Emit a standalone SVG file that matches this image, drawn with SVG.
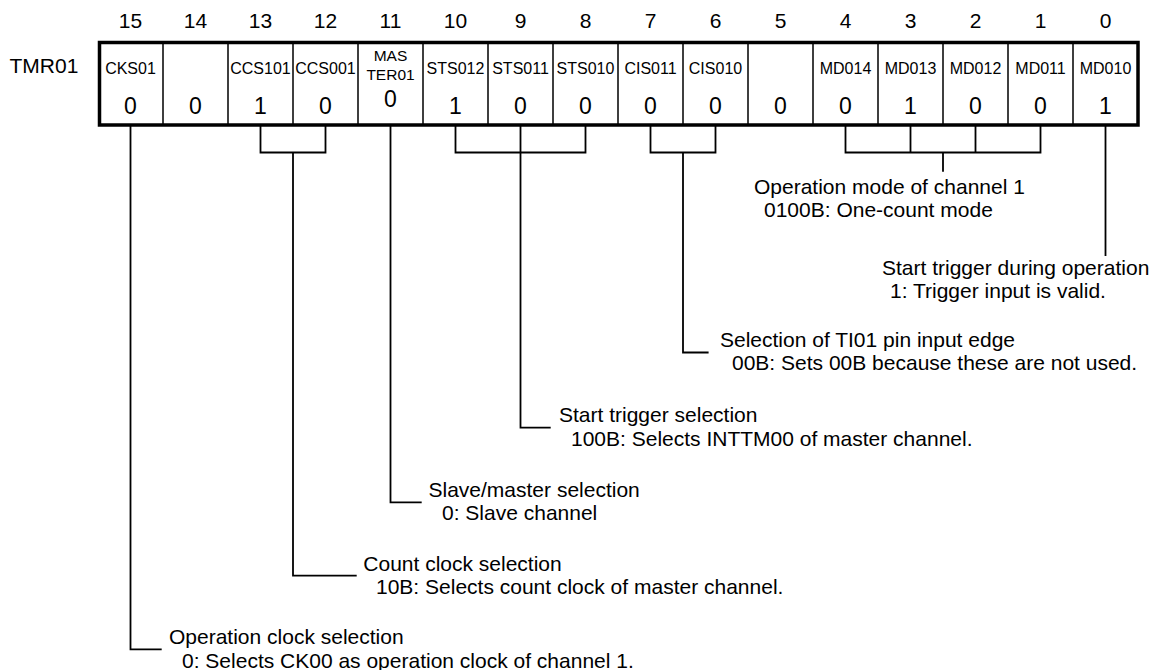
<svg xmlns="http://www.w3.org/2000/svg" width="1158" height="670" viewBox="0 0 1158 670">
<style>
text{font-family:"Liberation Sans",Arial,sans-serif;fill:#000}
.bn{font-size:21px;text-anchor:middle}
.reg{font-size:21px}
.lb{font-size:16px;text-anchor:middle}
.lb2{font-size:15.5px;text-anchor:middle}
.v{font-size:23px;text-anchor:middle}
.d{font-size:21px}
.div{stroke:#000;stroke-width:1.5}
.frame{fill:#fff;stroke:#000;stroke-width:3.5}
.con{fill:none;stroke:#000;stroke-width:1.8}
</style>
<rect width="1158" height="670" fill="#fff"/>
<g id="bit-numbers">
<text class="bn" x="130.5" y="28">15</text>
<text class="bn" x="195.5" y="28">14</text>
<text class="bn" x="260.5" y="28">13</text>
<text class="bn" x="325.5" y="28">12</text>
<text class="bn" x="390.5" y="28">11</text>
<text class="bn" x="455.5" y="28">10</text>
<text class="bn" x="520.5" y="28">9</text>
<text class="bn" x="585.5" y="28">8</text>
<text class="bn" x="650.5" y="28">7</text>
<text class="bn" x="715.5" y="28">6</text>
<text class="bn" x="780.5" y="28">5</text>
<text class="bn" x="845.5" y="28">4</text>
<text class="bn" x="910.5" y="28">3</text>
<text class="bn" x="975.5" y="28">2</text>
<text class="bn" x="1040.5" y="28">1</text>
<text class="bn" x="1105.5" y="28">0</text>
</g>
<g id="register-name"><text class="reg" x="9.5" y="73">TMR01</text></g>
<g id="register">
<rect class="frame" x="99.5" y="42.5" width="1038.5" height="82.5"/>
<path class="div" d="M163 42.5V125M228 42.5V125M293 42.5V125M358 42.5V125M423 42.5V125M488 42.5V125M553 42.5V125M618 42.5V125M683 42.5V125M748 42.5V125M813 42.5V125M878 42.5V125M943 42.5V125M1008 42.5V125M1073 42.5V125"/>
<g id="bit15"><text class="lb" x="130.5" y="73.5">CKS01</text><text class="v" x="130.5" y="113.5">0</text></g>
<g id="bit14"><text class="v" x="195.5" y="113.5">0</text></g>
<g id="bit13"><text class="lb" x="260.5" y="73.5">CCS101</text><text class="v" x="260.5" y="113.5">1</text></g>
<g id="bit12"><text class="lb" x="325.5" y="73.5">CCS001</text><text class="v" x="325.5" y="113.5">0</text></g>
<g id="bit11"><text class="lb2" x="390.5" y="60.7">MAS</text><text class="lb2" x="390.5" y="80">TER01</text><text class="v" x="390.5" y="106.5">0</text></g>
<g id="bit10"><text class="lb" x="455.5" y="73.5">STS012</text><text class="v" x="455.5" y="113.5">1</text></g>
<g id="bit9"><text class="lb" x="520.5" y="73.5">STS011</text><text class="v" x="520.5" y="113.5">0</text></g>
<g id="bit8"><text class="lb" x="585.5" y="73.5">STS010</text><text class="v" x="585.5" y="113.5">0</text></g>
<g id="bit7"><text class="lb" x="650.5" y="73.5">CIS011</text><text class="v" x="650.5" y="113.5">0</text></g>
<g id="bit6"><text class="lb" x="715.5" y="73.5">CIS010</text><text class="v" x="715.5" y="113.5">0</text></g>
<g id="bit5"><text class="v" x="780.5" y="113.5">0</text></g>
<g id="bit4"><text class="lb" x="845.5" y="73.5">MD014</text><text class="v" x="845.5" y="113.5">0</text></g>
<g id="bit3"><text class="lb" x="910.5" y="73.5">MD013</text><text class="v" x="910.5" y="113.5">1</text></g>
<g id="bit2"><text class="lb" x="975.5" y="73.5">MD012</text><text class="v" x="975.5" y="113.5">0</text></g>
<g id="bit1"><text class="lb" x="1040.5" y="73.5">MD011</text><text class="v" x="1040.5" y="113.5">0</text></g>
<g id="bit0"><text class="lb" x="1105.5" y="73.5">MD010</text><text class="v" x="1105.5" y="113.5">1</text></g>
</g>
<g id="connectors">
<path class="con" d="M130.5 126V649.3H161.7"/>
<path class="con" d="M260.5 126V152.5H325.5V126M293 152.5V575.7H356.7"/>
<path class="con" d="M390.5 126V502.3H421.7"/>
<path class="con" d="M455.5 126V152.5H585.5V126M520.5 126V427.7H550.7"/>
<path class="con" d="M650.5 126V152.5H715.5V126M683 152.5V352.5H708.6"/>
<path class="con" d="M845.5 126V152.5H1040.5V126M910.5 126V152.5M975.5 126V152.5M943 152.5V171.7"/>
<path class="con" d="M1105.5 126V256"/>
</g>
<g id="desc-mode">
<text class="d" x="754" y="194">Operation mode of channel 1</text>
<text class="d" x="764" y="217">0100B: One-count mode</text>
</g>
<g id="desc-trigger">
<text class="d" x="882" y="274.5">Start trigger during operation</text>
<text class="d" x="890" y="298">1: Trigger input is valid.</text>
</g>
<g id="desc-edge">
<text class="d" x="720" y="346.5">Selection of TI01 pin input edge</text>
<text class="d" x="732" y="370">00B: Sets 00B because these are not used.</text>
</g>
<g id="desc-sts">
<text class="d" x="559" y="422">Start trigger selection</text>
<text class="d" x="571" y="445.5">100B: Selects INTTM00 of master channel.</text>
</g>
<g id="desc-master">
<text class="d" x="428.5" y="496.7">Slave/master selection</text>
<text class="d" x="442" y="520">0: Slave channel</text>
</g>
<g id="desc-ccs">
<text class="d" x="363.3" y="570.7">Count clock selection</text>
<text class="d" x="376" y="594.3">10B: Selects count clock of master channel.</text>
</g>
<g id="desc-cks">
<text class="d" x="169" y="644.3">Operation clock selection</text>
<text class="d" x="182" y="667.7">0: Selects CK00 as operation clock of channel 1.</text>
</g>
</svg>
